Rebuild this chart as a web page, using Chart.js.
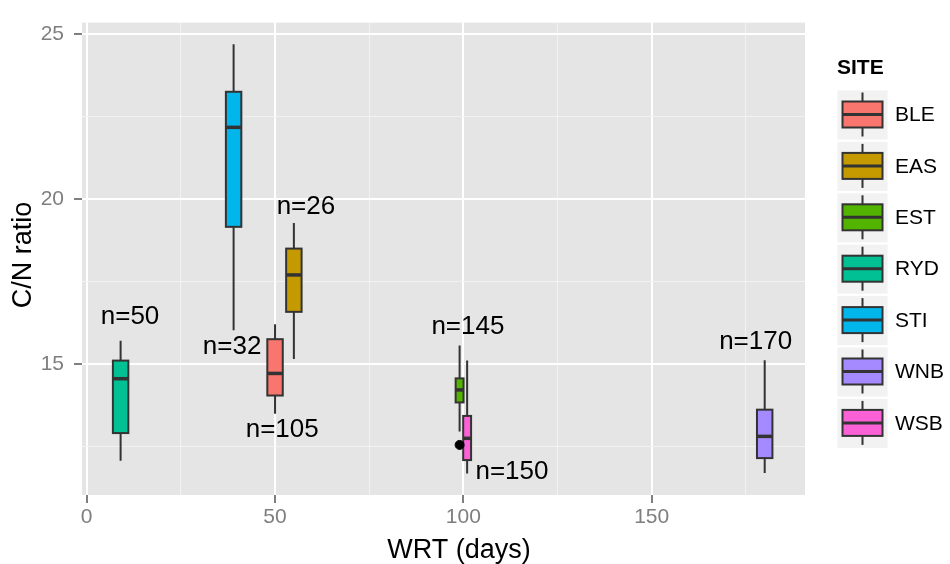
<!DOCTYPE html>
<html>
<head>
<meta charset="utf-8">
<script src="https://cdn.jsdelivr.net/npm/chart.js@4/dist/chart.umd.min.js"></script>
<style>
  body { margin: 0; background: #fff; }
  canvas { display: block; }
</style>
</head>
<body>
<canvas id="chart" width="950" height="564"></canvas>
<script>
const sites = ['BLE', 'EAS', 'EST', 'RYD', 'STI', 'WNB', 'WSB'];
const siteColors = ['#F8766D', '#C49A00', '#53B400', '#00C094', '#00B6EB', '#A58AFF', '#FB61D7'];
const wrtDays = [50, 55, 99, 9, 39, 180, 101];
const whiskerLow = [13.49, 15.15, 12.95, 12.06, 16.02, 11.69, 11.67];
const q1 = [14.04, 16.58, 13.83, 12.90, 19.16, 12.14, 12.08];
const median = [14.71, 17.70, 14.21, 14.55, 22.18, 12.80, 12.74];
const q3 = [15.75, 18.50, 14.56, 15.10, 23.26, 13.61, 13.42];
const whiskerHigh = [16.20, 19.28, 15.56, 15.70, 24.70, 15.11, 15.10];
const outliers = [[], [], [12.54], [], [], [], []];
const sampleSize = [105, 26, 145, 50, 32, 170, 150];
// where the n= labels sit, in data units (like annotate())
const labelX = [51.9, 58.2, 101.2, 11.5, 38.6, 177.6, 112.9];
const labelY = [13.01, 19.78, 16.13, 16.42, 15.53, 15.68, 11.71];

const xMajor = [0, 50, 100, 150];
const xMinor = [25, 75, 125, 175];
const yMajor = [15, 20, 25];
const yMinor = [12.5, 17.5, 22.5];

const FONT = "'Liberation Sans', Arial, sans-serif";
const narrowSites = ['EST', 'WSB'];

const panelBg = {
  id: 'panelBg',
  beforeDraw(chart) {
    const { ctx, chartArea: a } = chart;
    ctx.save();
    ctx.fillStyle = '#e5e5e5';
    ctx.fillRect(a.left, a.top, a.right - a.left, a.bottom - a.top);
    ctx.restore();
  }
};

const boxes = {
  id: 'boxes',
  beforeDatasetsDraw(chart) {
    const { ctx, scales: { x, y } } = chart;
    ctx.save();
    sites.forEach((s, i) => {
      const w = narrowSites.includes(s) ? 2.1 : 4.1;
      const cx = x.getPixelForValue(wrtDays[i]);
      const left = x.getPixelForValue(wrtDays[i] - w / 2);
      const right = x.getPixelForValue(wrtDays[i] + w / 2);
      const yTop = y.getPixelForValue(q3[i]);
      const yBot = y.getPixelForValue(q1[i]);
      ctx.strokeStyle = '#333333';
      ctx.lineWidth = 2;
      ctx.beginPath();
      ctx.moveTo(cx, y.getPixelForValue(whiskerHigh[i]));
      ctx.lineTo(cx, yTop);
      ctx.moveTo(cx, yBot);
      ctx.lineTo(cx, y.getPixelForValue(whiskerLow[i]));
      ctx.stroke();
      ctx.fillStyle = siteColors[i];
      ctx.fillRect(left, yTop, right - left, yBot - yTop);
      ctx.strokeRect(left, yTop, right - left, yBot - yTop);
      ctx.lineWidth = 3.5;
      ctx.beginPath();
      const ym = y.getPixelForValue(median[i]);
      ctx.moveTo(left, ym);
      ctx.lineTo(right, ym);
      ctx.stroke();
    });
    ctx.restore();
  },
  afterDraw(chart) {
    const { ctx, scales: { x, y }, chartArea: a } = chart;
    ctx.save();
    ctx.fillStyle = '#000';
    ctx.textAlign = 'center';
    ctx.textBaseline = 'middle';
    ctx.font = `26px ${FONT}`;
    sites.forEach((s, i) => {
      ctx.fillText('n=' + sampleSize[i], x.getPixelForValue(labelX[i]), y.getPixelForValue(labelY[i]));
    });

    // axis titles
    ctx.font = `27px ${FONT}`;
    ctx.fillText('WRT (days)', 459, 551);
    ctx.save();
    ctx.translate(24, 255);
    ctx.rotate(-Math.PI / 2);
    ctx.fillText('C/N ratio', 0, 0);
    ctx.restore();

    // legend
    ctx.textAlign = 'left';
    ctx.font = `bold 21px ${FONT}`;
    ctx.fillText('SITE', 837, 68);
    ctx.font = `21px ${FONT}`;
    sites.forEach((s, i) => {
      const top = 90.5 + i * 51.4;
      const kx = 837.5, kw = 50;
      ctx.fillStyle = '#f2f2f2';
      ctx.fillRect(kx, top, kw, 49);
      const mid = top + 24;
      const cx = kx + kw / 2;
      ctx.strokeStyle = '#333333';
      ctx.lineWidth = 2;
      ctx.beginPath();
      ctx.moveTo(cx, top + 2);
      ctx.lineTo(cx, top + 46);
      ctx.stroke();
      ctx.fillStyle = siteColors[i];
      ctx.fillRect(kx + 5, mid - 13, 40, 26);
      ctx.strokeRect(kx + 5, mid - 13, 40, 26);
      ctx.lineWidth = 3;
      ctx.beginPath();
      ctx.moveTo(kx + 5, mid);
      ctx.lineTo(kx + 45, mid);
      ctx.stroke();
      ctx.fillStyle = '#000';
      ctx.fillText(s, 895, mid + 1);
    });
    ctx.restore();
  }
};

function axisOpts(major, minor, min, max) {
  const all = major.concat(minor).sort((a, b) => a - b);
  const isMajor = v => major.includes(v);
  return {
    type: 'linear',
    min, max,
    afterBuildTicks: s => { s.ticks = all.map(v => ({ value: v })); },
    ticks: {
      autoSkip: false,
      maxRotation: 0,
      color: '#7f7f7f',
      font: { family: FONT, size: 21 },
      callback: v => isMajor(v) ? String(v) : ''
    },
    grid: {
      color: c => isMajor(c.tick.value) ? '#ffffff' : '#f2f2f2',
      lineWidth: c => isMajor(c.tick.value) ? 2 : 1,
      tickColor: c => isMajor(c.tick.value) ? '#7f7f7f' : 'rgba(0,0,0,0)',
      tickWidth: 2,
      tickLength: 8
    },
    border: { display: false }
  };
}

const xAxis = axisOpts(xMajor, xMinor, -1.25, 190.7);
xAxis.ticks.padding = 2;
xAxis.afterFit = s => { s.height = 69; };
const yAxis = axisOpts(yMajor, yMinor, 11.02, 25.36);
yAxis.ticks.padding = 10;
yAxis.afterFit = s => { s.width = 82; };

new Chart(document.getElementById('chart'), {
  type: 'scatter',
  data: {
    datasets: sites.map((s, i) => ({
      label: s,
      data: outliers[i].map(v => ({ x: wrtDays[i], y: v })),
      backgroundColor: '#000',
      borderColor: '#000',
      pointRadius: 4.5
    }))
  },
  options: {
    responsive: false,
    animation: false,
    devicePixelRatio: 1,
    layout: { padding: { left: 0, right: 145, top: 12, bottom: 0 } },
    plugins: { legend: { display: false }, tooltip: { enabled: false } },
    scales: { x: xAxis, y: yAxis }
  },
  plugins: [panelBg, boxes]
});
</script>
</body>
</html>
